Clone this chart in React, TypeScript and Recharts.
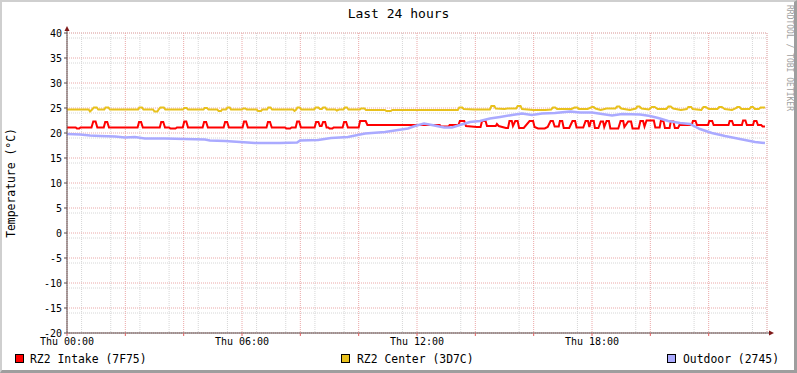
import React from 'react';
import { LineChart, Line, XAxis, YAxis, CartesianGrid } from 'recharts';

const TITLE = 'Last 24 hours';
const Y_LABEL = 'Temperature (°C)';
const WATERMARK = 'RRDTOOL / TOBI OETIKER';

const seriesNames = ['RZ2 Intake (7F75)', 'RZ2 Center (3D7C)', 'Outdoor (2745)'];
const seriesColors = ['#ff0000', '#e8c11c', '#aaaaff'];

const yTicks = [-20, -15, -10, -5, 0, 5, 10, 15, 20, 25, 30, 35, 40];
const xMajorTicks = [0, 2, 4, 6, 8, 10, 12, 14, 16, 18, 20, 22];
const xTickLabels: Record<number, string> = { 0: 'Thu 00:00', 6: 'Thu 06:00', 12: 'Thu 12:00', 18: 'Thu 18:00' };
const xMinorTicks = Array.from({ length: 48 }, (_, i) => i * 0.5).filter((v) => v % 2 !== 0);
const yMinorTicks = Array.from({ length: 61 }, (_, i) => i - 20).filter((v) => v % 5 !== 0);

// [hour, °C]
const intake: [number, number][] = [
  [0.0, 21.1], [0.3, 21.1], [0.34, 20.9], [0.42, 20.9], [0.46, 21.1],
  [0.84, 21.1], [0.9, 22.3], [0.98, 22.3], [1.04, 21.1],
  [1.26, 21.1], [1.31, 22.2], [1.38, 22.2], [1.44, 21.1],
  [2.42, 21.1], [2.47, 22.2], [2.54, 22.2], [2.6, 21.1],
  [3.18, 21.1], [3.23, 22.2], [3.3, 22.2], [3.36, 21.1],
  [3.5, 21.1], [3.55, 20.9], [3.72, 20.9], [3.77, 21.1],
  [3.97, 21.1], [4.02, 22.3], [4.09, 22.3], [4.15, 21.1],
  [4.65, 21.1], [4.7, 22.2], [4.77, 22.2], [4.83, 21.1],
  [5.37, 21.1], [5.42, 22.2], [5.49, 22.2], [5.55, 21.1],
  [6.02, 21.1], [6.07, 22.3], [6.14, 22.3], [6.2, 21.1],
  [6.84, 21.1], [6.89, 22.2], [6.96, 22.2], [7.02, 21.1],
  [7.48, 21.1], [7.52, 20.9], [7.65, 20.9], [7.7, 21.1],
  [7.84, 21.1], [7.89, 22.3], [7.96, 22.3], [8.02, 21.1],
  [8.49, 21.1], [8.54, 22.2], [8.62, 22.2], [8.67, 21.4], [8.73, 21.4], [8.78, 22.2], [8.85, 22.2], [8.9, 21.1],
  [8.96, 21.1], [9.0, 20.9], [9.1, 20.9], [9.14, 21.1],
  [9.45, 21.1], [9.5, 22.2], [9.57, 22.2], [9.63, 21.1],
  [10.0, 21.1], [10.05, 22.4], [10.24, 22.4], [10.3, 21.6],
  [12.78, 21.6], [12.82, 21.3], [13.08, 21.3], [13.12, 21.6],
  [13.42, 21.6], [13.47, 22.4], [13.62, 22.4], [13.68, 21.4],
  [14.05, 21.2], [14.18, 21.2], [14.23, 22.4], [14.35, 22.4], [14.4, 21.4],
  [14.7, 21.4], [14.74, 21.8], [14.8, 21.4], [15.05, 21.0], [15.12, 21.0],
  [15.17, 22.4], [15.25, 22.4], [15.29, 21.4], [15.37, 22.4], [15.45, 22.4], [15.5, 21.0], [15.66, 21.0],
  [15.86, 22.4], [15.98, 22.4], [16.03, 21.2], [16.15, 20.9], [16.38, 20.9], [16.48, 21.2],
  [16.58, 22.4], [16.66, 22.4], [16.72, 21.3], [16.86, 21.3], [16.9, 22.4], [16.98, 22.4], [17.03, 21.0], [17.22, 21.0],
  [17.33, 22.4], [17.42, 22.4], [17.47, 21.1], [17.7, 21.1],
  [17.78, 22.4], [17.86, 22.4], [17.91, 21.2], [17.96, 22.4], [18.06, 22.4], [18.1, 21.0], [18.22, 21.0],
  [18.3, 22.3], [18.38, 22.3], [18.42, 21.2], [18.5, 22.4], [18.58, 22.4], [18.63, 20.9], [18.9, 20.9],
  [18.98, 22.4], [19.07, 22.4], [19.11, 21.2], [19.24, 22.3], [19.34, 22.3], [19.39, 20.9], [19.6, 20.9],
  [19.66, 22.4], [19.75, 22.4], [19.8, 21.3], [19.87, 22.5], [20.12, 22.5], [20.17, 21.1], [20.32, 21.1],
  [20.36, 22.4], [20.45, 22.4], [20.5, 21.0], [20.66, 21.0], [20.7, 22.3], [20.79, 22.3], [20.84, 21.0], [20.95, 21.0], [21.0, 21.6],
  [21.42, 21.6], [21.46, 22.4], [21.55, 22.4], [21.6, 21.6],
  [21.98, 21.6], [22.02, 22.4], [22.12, 22.4], [22.17, 21.6],
  [22.68, 21.6], [22.72, 22.4], [22.8, 22.4], [22.85, 21.6],
  [23.14, 21.6], [23.18, 22.5], [23.26, 22.5], [23.31, 21.6],
  [23.52, 21.6], [23.56, 22.4], [23.64, 22.4], [23.69, 21.6],
  [23.8, 21.6], [23.85, 21.3], [23.93, 21.3],
];

const center: [number, number][] = [
  [0.0, 24.7], [0.74, 24.7], [0.79, 24.3], [0.86, 24.7], [0.92, 25.1], [1.02, 25.1], [1.07, 24.7],
  [1.28, 24.7], [1.32, 25.1], [1.42, 25.1], [1.47, 24.7],
  [2.44, 24.7], [2.48, 25.1], [2.57, 25.1], [2.62, 24.7],
  [2.95, 24.7], [3.0, 24.3], [3.1, 24.3], [3.14, 24.7], [3.2, 25.1], [3.32, 25.1], [3.37, 24.7],
  [3.98, 24.7], [4.02, 25.0], [4.1, 25.0], [4.15, 24.7],
  [4.68, 24.7], [4.72, 25.0], [4.8, 25.0], [4.85, 24.7],
  [5.15, 24.7], [5.2, 24.4], [5.28, 24.4], [5.32, 24.7], [5.45, 24.7], [5.5, 25.1], [5.58, 25.1], [5.62, 24.7],
  [6.0, 24.7], [6.05, 24.9], [6.12, 24.9], [6.16, 24.7],
  [6.5, 24.7], [6.55, 24.4], [6.65, 24.4], [6.7, 24.7], [6.86, 24.7], [6.9, 25.1], [6.98, 25.1], [7.03, 24.7],
  [7.75, 24.7], [7.8, 24.4], [7.86, 24.7], [7.9, 25.1], [7.98, 25.1], [8.03, 24.7],
  [8.48, 24.7], [8.52, 25.1], [8.62, 25.1], [8.67, 24.8], [8.74, 24.8], [8.78, 25.1], [8.86, 25.1], [8.9, 24.7],
  [9.2, 24.7], [9.25, 24.5], [9.33, 24.7],
  [9.48, 24.7], [9.52, 25.1], [9.6, 25.1], [9.65, 24.7],
  [10.04, 24.7], [10.08, 24.9], [10.2, 24.9], [10.25, 24.6],
  [10.9, 24.6], [10.95, 24.4], [11.1, 24.4], [11.15, 24.6],
  [13.4, 24.6], [13.45, 25.1], [13.55, 25.1], [13.6, 24.8], [13.95, 24.7],
  [14.5, 24.7], [14.55, 25.4], [14.65, 25.4], [14.7, 24.9], [15.0, 24.8], [15.1, 24.9],
  [15.4, 24.9], [15.45, 25.4], [15.55, 25.4], [15.6, 24.8], [16.0, 24.6], [16.4, 24.6],
  [16.6, 24.7], [16.66, 25.1], [16.74, 25.1], [16.8, 24.8], [17.3, 24.8], [17.4, 25.1], [17.5, 25.1], [17.55, 24.8],
  [17.85, 24.8], [18.0, 25.2], [18.06, 25.2], [18.12, 24.9], [18.3, 24.6], [18.5, 24.9],
  [18.8, 24.9], [18.86, 25.3], [18.94, 25.3], [19.0, 24.9], [19.3, 24.6], [19.5, 24.9],
  [19.55, 25.3], [19.63, 25.3], [19.7, 24.9], [19.95, 24.7], [20.05, 25.2], [20.15, 25.2], [20.25, 24.8],
  [20.55, 24.8], [20.62, 25.3], [20.7, 25.3], [20.78, 24.9], [21.05, 24.6], [21.25, 24.8],
  [21.3, 25.2], [21.4, 25.2], [21.45, 24.8], [21.75, 24.6], [21.82, 25.2], [21.9, 25.2], [22.0, 24.8],
  [22.3, 24.8], [22.36, 25.2], [22.45, 25.2], [22.55, 24.8], [22.8, 24.6], [22.95, 25.0],
  [22.98, 25.2], [23.06, 25.2], [23.12, 24.8], [23.4, 24.8], [23.45, 25.2], [23.52, 25.2], [23.58, 24.8],
  [23.72, 24.8], [23.78, 25.1], [23.93, 25.1],
];

const outdoor: [number, number][] = [
  [0.0, 19.8], [0.45, 19.7], [0.79, 19.5], [1.13, 19.4], [1.65, 19.3], [1.99, 19.1], [2.33, 19.2],
  [2.67, 18.9], [3.36, 18.9], [4.05, 18.8], [4.73, 18.7], [4.9, 18.5], [5.42, 18.4], [5.93, 18.2],
  [6.45, 18.0], [7.3, 18.0], [7.89, 18.1], [7.99, 18.5], [8.61, 18.6], [9.05, 19.0], [9.63, 19.2],
  [10.22, 19.9], [10.9, 20.2], [11.35, 20.6], [11.69, 20.9], [11.93, 21.4], [12.24, 21.9], [12.51, 21.6],
  [12.93, 21.1], [13.2, 21.1], [13.47, 21.6], [13.82, 22.2], [14.16, 22.4], [14.5, 22.9], [14.85, 23.2],
  [15.26, 23.6], [15.6, 23.9], [15.94, 23.6], [16.29, 23.9], [16.73, 24.0], [17.25, 24.3], [17.59, 24.1],
  [18.0, 24.1], [18.34, 23.8], [18.69, 23.5], [19.03, 23.8], [19.65, 23.7], [19.99, 23.4], [20.27, 23.0],
  [20.61, 22.4], [21.02, 22.0], [21.36, 21.8], [21.7, 20.8], [22.11, 20.0], [22.56, 19.4], [23.07, 18.8],
  [23.59, 18.2], [23.93, 18.0],
];

const series = [intake, center, outdoor].map((s) => s.map(([h, v]) => ({ h, v })));
const strokeWidths = [2, 2, 2.5];

const FONT = 'DejaVu Sans Mono';
const AXIS = '#5b4f4f';
const ARROW = '#7f1a1a';

const legendLayout = [
  { box: 15, text: 30 },
  { box: 341, text: 357 },
  { box: 667, text: 683 },
];

export default function App() {
  return (
    <div style={{ position: 'absolute', left: 0, top: 0, width: 797, height: 373, background: '#fff', fontFamily: FONT }}>
      <LineChart width={797} height={373} margin={{ top: 33, right: 30, bottom: 20, left: 0 }}>
        <XAxis xAxisId="minor" type="number" dataKey="h" domain={[0, 24]} ticks={xMinorTicks} hide allowDataOverflow />
        <YAxis yAxisId="minor" type="number" domain={[-20, 40]} ticks={yMinorTicks} hide allowDataOverflow />
        <CartesianGrid xAxisId="minor" yAxisId="minor" stroke="#d6d6d6" strokeDasharray="1 1" />
        <CartesianGrid stroke="#eba8a8" strokeDasharray="1 1" />
        <XAxis
          type="number"
          dataKey="h"
          domain={[0, 24]}
          ticks={xMajorTicks}
          interval={0}
          allowDataOverflow
          height={20}
          tickSize={3}
          tickMargin={2}
          tickFormatter={(v: number) => xTickLabels[v] ?? ''}
          tick={{ fill: '#000', fontSize: 10, fontFamily: FONT }}
          tickLine={{ stroke: '#e06060' }}
          axisLine={{ stroke: AXIS }}
        />
        <YAxis
          type="number"
          domain={[-20, 40]}
          ticks={yTicks}
          interval={0}
          allowDataOverflow
          width={67}
          tickSize={3}
          tickMargin={2}
          tick={{ fill: '#000', fontSize: 10, fontFamily: FONT }}
          tickLine={{ stroke: AXIS }}
          axisLine={{ stroke: AXIS }}
        />
        {series.map((d, i) => (
          <Line
            key={seriesNames[i]}
            data={d}
            dataKey="v"
            type="linear"
            stroke={seriesColors[i]}
            strokeWidth={strokeWidths[i]}
            dot={false}
            activeDot={false}
            isAnimationActive={false}
          />
        ))}
      </LineChart>
      <svg width={797} height={373} style={{ position: 'absolute', left: 0, top: 0, pointerEvents: 'none' }}>
        <text x={398.5} y={13.5} textAnchor="middle" dominantBaseline="central" fontSize={13} fontFamily={FONT} fill="#000">
          {TITLE}
        </text>
        <text transform="translate(11,183) rotate(-90)" textAnchor="middle" dominantBaseline="central" fontSize={11.4} fontFamily={FONT} fill="#000">
          {Y_LABEL}
        </text>
        <text transform="translate(789,5) rotate(90)" textAnchor="start" dominantBaseline="central" fontSize={8} fontFamily={FONT} fill="#a0a0a0">
          {WATERMARK}
        </text>
        <line x1={67} y1={33} x2={67} y2={30} stroke={AXIS} />
        <polygon points="67,26 64.5,31 69.5,31" fill={ARROW} />
        <line x1={767} y1={333} x2={770} y2={333} stroke={AXIS} />
        <polygon points="774,333 769,330.5 769,335.5" fill={ARROW} />
        {seriesNames.map((name, i) => (
          <g key={name}>
            <rect x={legendLayout[i].box + 0.5} y={354.5} width={8} height={8} fill={seriesColors[i]} stroke="#000" strokeWidth={1} />
            <text x={legendLayout[i].text} y={358.5} dominantBaseline="central" fontSize={11.4} fontFamily={FONT} fill="#000">
              {name}
            </text>
          </g>
        ))}
      </svg>
      <div
        style={{
          position: 'absolute',
          left: 0,
          top: 0,
          width: 797,
          height: 373,
          boxSizing: 'border-box',
          borderTop: '2px solid #cfcfcf',
          borderLeft: '2px solid #cfcfcf',
          borderRight: '3px solid #9e9e9e',
          borderBottom: '3px solid #9e9e9e',
          pointerEvents: 'none',
        }}
      />
    </div>
  );
}
